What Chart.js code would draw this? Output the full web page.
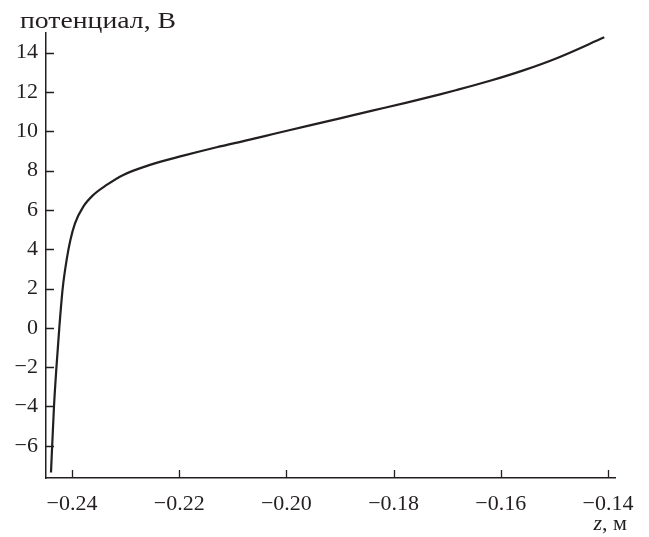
<!DOCTYPE html>
<html>
<head>
<meta charset="utf-8">
<script src="https://cdn.jsdelivr.net/npm/chart.js@4/dist/chart.umd.min.js"></script>
<style>
  html, body { margin: 0; padding: 0; background: #fff; }
  #wrap { width: 649px; height: 537px; }
</style>
</head>
<body>
<div id="wrap"><canvas id="potential"></canvas></div>
<script>
"use strict";

// potential along the axis
const zValues = [-0.24392, -0.24336, -0.24290, -0.24237, -0.24174, -0.24100, -0.24030, -0.23944,
    -0.23789, -0.23603, -0.23353, -0.23043, -0.22545, -0.21924, -0.21302, -0.20743, -0.20245,
    -0.19623, -0.19000, -0.18377, -0.17756, -0.17134, -0.16823, -0.16201, -0.15580, -0.14957,
    -0.14070];
const potential = [-7.36, -4.0, -2.0, 0.0, 2.0, 3.46, 4.47, 5.32,
    6.17, 6.76, 7.27, 7.78, 8.29, 8.76, 9.19, 9.54, 9.86,
    10.26, 10.66, 11.06, 11.46, 11.88, 12.1, 12.57, 13.1, 13.72,
    14.78];

const yTicks = [-6, -4, -2, 0, 2, 4, 6, 8, 10, 12, 14];
const xTicks = [-0.24, -0.22, -0.20, -0.18, -0.16, -0.14];

const yTitle = 'потенциал, В';
const xUnit = 'м';

const ink = '#231f20';
const family = '"Liberation Serif", "Times New Roman", serif';
const tickFont = { family: family, size: 22 };

const minus = (s) => s.replace('-', '\u2212');

// write text squeezed/stretched to a given width
function fitText(ctx, text, x, y, width) {
    const w = ctx.measureText(text).width;
    ctx.save();
    ctx.translate(x, y);
    ctx.scale(width / w, 1);
    ctx.fillText(text, 0, 0);
    ctx.restore();
}

// tick marks point into the plot area, plus the axis names
const innerTicks = {
    id: 'innerTicks',
    afterDraw(chart) {
        const { ctx, chartArea, scales } = chart;
        ctx.save();
        ctx.strokeStyle = ink;
        ctx.lineWidth = 1.3;
        ctx.beginPath();
        scales.x.ticks.forEach(t => {
            const px = Math.round(scales.x.getPixelForValue(t.value)) + 0.5;
            ctx.moveTo(px, chartArea.bottom);
            ctx.lineTo(px, chartArea.bottom - 8);
        });
        scales.y.ticks.forEach(t => {
            const py = Math.round(scales.y.getPixelForValue(t.value)) + 0.5;
            ctx.moveTo(chartArea.left, py);
            ctx.lineTo(chartArea.left + 8, py);
        });
        ctx.stroke();

        ctx.fillStyle = ink;
        ctx.textBaseline = 'alphabetic';
        ctx.textAlign = 'left';
        ctx.font = `23px ${family}`;
        fitText(ctx, yTitle, 20, 28, 156);

        // axis name: italic z, upright unit
        ctx.font = `italic 22px ${family}`;
        const zw = ctx.measureText('z').width;
        ctx.font = `22px ${family}`;
        const rest = ', ' + xUnit;
        const rw = ctx.measureText(rest).width;
        const x0 = 627 - zw - rw;
        ctx.font = `italic 22px ${family}`;
        ctx.fillText('z', x0, 530);
        ctx.font = `22px ${family}`;
        ctx.fillText(rest, x0 + zw, 530);
        ctx.restore();
    }
};

new Chart(document.querySelector('#potential').getContext('2d'), {
    type: 'line',
    data: {
        datasets: [{
            data: zValues.map((z, i) => ({ x: z, y: potential[i] })),
            borderColor: ink,
            borderWidth: 2.2,
            pointRadius: 0,
            cubicInterpolationMode: 'monotone',
            fill: false
        }]
    },
    options: {
        responsive: true,
        maintainAspectRatio: false,
        animation: false,
        layout: { padding: { top: 33, right: 34, left: 0, bottom: 0 } },
        plugins: { legend: { display: false }, tooltip: { enabled: false } },
        scales: {
            x: {
                type: 'linear',
                min: -0.24485,
                max: -0.1387,
                afterFit(scale) { scale.height = 59; },
                afterBuildTicks(scale) { scale.ticks = xTicks.map(v => ({ value: v })); },
                grid: { display: false, drawTicks: false },
                border: { display: true, color: ink, width: 1.5 },
                ticks: {
                    color: ink,
                    font: tickFont,
                    padding: 13,
                    maxRotation: 0,
                    callback: (v) => minus(v.toFixed(2))
                }
            },
            y: {
                type: 'linear',
                min: -7.64,
                max: 15,
                afterFit(scale) { scale.width = 46; },
                afterBuildTicks(scale) { scale.ticks = yTicks.map(v => ({ value: v })); },
                grid: { display: false, drawTicks: false },
                border: { display: true, color: ink, width: 1.5 },
                ticks: {
                    color: ink,
                    font: tickFont,
                    padding: 8,
                    callback: (v) => minus(String(v))
                }
            }
        }
    },
    plugins: [innerTicks]
});
</script>
</body>
</html>
